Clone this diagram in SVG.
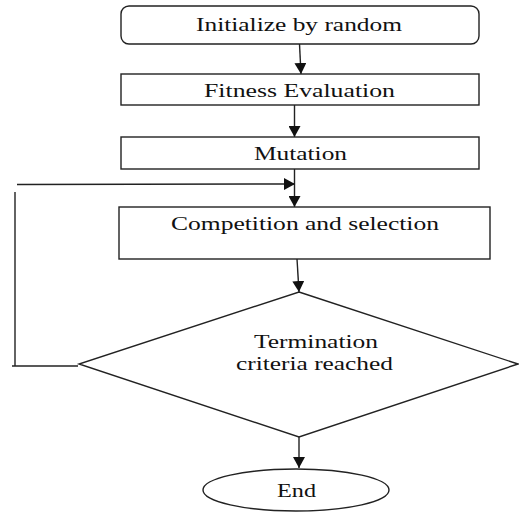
<svg xmlns="http://www.w3.org/2000/svg" width="519" height="513" viewBox="0 0 519 513">
<style>
.shape{fill:#fff;stroke:#222;stroke-width:1.4}
.line{fill:none;stroke:#222;stroke-width:1.4}
.lbl{font-family:'Liberation Serif','Times New Roman',serif;font-size:19px;fill:#111;text-anchor:middle}
</style>
<defs>
<marker id="arr" markerUnits="userSpaceOnUse" markerWidth="12" markerHeight="12" refX="11" refY="6" orient="auto" viewBox="0 0 12 12">
<path d="M0,0 L11,6 L0,12 Z" fill="#111"/>
</marker>
</defs>
<rect width="519" height="513" fill="#fff"/>
<g id="connectors">
<line class="line" x1="299.5" y1="44" x2="301" y2="74" marker-end="url(#arr)"/>
<line class="line" x1="294.5" y1="105" x2="294.5" y2="137" marker-end="url(#arr)"/>
<line class="line" x1="294.5" y1="169" x2="294.5" y2="207" marker-end="url(#arr)"/>
<line class="line" x1="17" y1="184.5" x2="295" y2="184" marker-end="url(#arr)"/>
<line class="line" x1="15" y1="192" x2="15" y2="366"/>
<line class="line" x1="12" y1="366" x2="78" y2="366"/>
<line class="line" x1="297" y1="259" x2="299" y2="292" marker-end="url(#arr)"/>
<line class="line" x1="299" y1="437" x2="299" y2="468" marker-end="url(#arr)"/>
</g>
<g id="init">
<rect class="shape" x="121" y="6" width="358" height="38" rx="8"/>
<text class="lbl" x="299" y="31" textLength="206" lengthAdjust="spacingAndGlyphs">Initialize by random</text>
</g>
<g id="fitness">
<rect class="shape" x="121" y="74" width="358" height="31"/>
<text class="lbl" x="299.5" y="97" textLength="191" lengthAdjust="spacingAndGlyphs">Fitness Evaluation</text>
</g>
<g id="mutation">
<rect class="shape" x="121" y="137" width="358" height="32"/>
<text class="lbl" x="300.5" y="159.5" textLength="93" lengthAdjust="spacingAndGlyphs">Mutation</text>
</g>
<g id="competition">
<rect class="shape" x="119" y="207" width="371" height="52"/>
<text class="lbl" x="305" y="230" textLength="268" lengthAdjust="spacingAndGlyphs">Competition and selection</text>
</g>
<g id="termination">
<polygon class="shape" points="299,292 518,364 299,437 79,364"/>
<text class="lbl" x="316" y="348" textLength="124" lengthAdjust="spacingAndGlyphs">Termination</text>
<text class="lbl" x="314.5" y="370" textLength="157" lengthAdjust="spacingAndGlyphs">criteria reached</text>
</g>
<g id="end">
<ellipse class="shape" cx="296" cy="490" rx="93" ry="21"/>
<text class="lbl" x="296.5" y="497" textLength="39" lengthAdjust="spacingAndGlyphs">End</text>
</g>
</svg>
